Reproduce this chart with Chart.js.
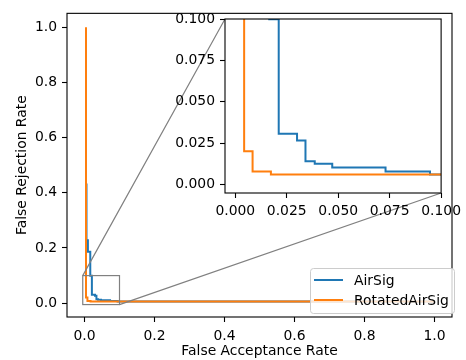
<!DOCTYPE html>
<html>
<head>
<meta charset="utf-8">
<title>FAR vs FRR</title>
<script src="https://cdn.jsdelivr.net/npm/chart.js@4.4.1/dist/chart.umd.min.js"></script>
<style>
  html, body { margin: 0; padding: 0; background: #fff; }
  #wrap { position: relative; width: 466px; height: 360px; }
  #main { position: absolute; left: 0; top: 0; }
  #inset { position: absolute; left: 160px; top: 0; }
</style>
</head>
<body>
<div id="wrap">
  <canvas id="main" width="466" height="360" style="width:466px;height:360px"></canvas>
  <canvas id="inset" width="306" height="232" style="width:306px;height:232px"></canvas>
</div>
<script>
// --- data -------------------------------------------------------------
const seriesNames = ['AirSig', 'RotatedAirSig'];

// step curves, corner by corner (false acceptance / false rejection)
const airSigFar = [0.0057, 0.0057, 0.0097, 0.0097, 0.0165, 0.0165, 0.0211, 0.0211,
                   0.0300, 0.0300, 0.0341, 0.0341, 0.0386, 0.0386, 0.0471, 0.0471,
                   0.0730, 0.0730, 0.0946, 0.0946, 1.0];
const airSigFrr = [0.434, 0.228, 0.228, 0.186, 0.186, 0.0998, 0.0998, 0.0307,
                   0.0307, 0.0267, 0.0267, 0.0142, 0.0142, 0.0126, 0.0126, 0.0104,
                   0.0104, 0.0080, 0.0080, 0.0062, 0.0062];

const rotatedFar = [0.0043, 0.0043, 0.0084, 0.0084, 0.0173, 0.0173, 1.0];
const rotatedFrr = [1.0, 0.0202, 0.0202, 0.0080, 0.0080, 0.0062, 0.0062];

const mainTicks = [0, 0.2, 0.4, 0.6, 0.8, 1.0];
const insetTicks = [0, 0.025, 0.05, 0.075, 0.1];
const mainRange = [-0.05, 1.05];
const zoomRange = [-0.005, 0.1];

// --- look -------------------------------------------------------------
const FONT = "'DejaVu Sans', sans-serif";
const BLUE = '#1f77b4';
const ORANGE = '#ff7f0e';
const GREY = '#808080';
const INSET_X = 160, INSET_Y = 0;   // css offset of the inset canvas

const toPoints = (xs, ys) => xs.map((x, i) => ({ x, y: ys[i] }));

function makeDatasets() {
    const common = { borderWidth: 2, pointRadius: 0, fill: false, tension: 0, showLine: true, clip: 0 };
    return [
        { ...common, label: seriesNames[0], data: toPoints(airSigFar, airSigFrr), borderColor: BLUE, order: 1 },
        { ...common, label: seriesNames[1], data: toPoints(rotatedFar, rotatedFrr), borderColor: ORANGE, order: 0 }
    ];
}

function axis(range, ticks, digits, fit, pad, title) {
    const a = {
        type: 'linear',
        min: range[0],
        max: range[1],
        afterBuildTicks: s => { s.ticks = ticks.map(v => ({ value: v })); },
        afterFit: fit,
        ticks: {
            callback: v => Number(v).toFixed(digits),
            color: '#000',
            font: { family: FONT, size: 13.9 },
            padding: pad,
            maxRotation: 0,
            autoSkip: false
        },
        grid: { drawOnChartArea: false, drawTicks: true, tickLength: 5, tickWidth: 1.1, tickColor: '#000' },
        border: { display: false }
    };
    if (title) a.title = title;
    return a;
}

function frame(ctx, area) {
    ctx.save();
    ctx.strokeStyle = '#000';
    ctx.lineWidth = 1.1;
    ctx.strokeRect(area.left, area.top, area.right - area.left, area.bottom - area.top);
    ctx.restore();
}

// --- inset (zoomed corner) ----------------------------------------------
const insetChart = new Chart(document.getElementById('inset'), {
    type: 'scatter',
    data: { datasets: makeDatasets() },
    options: {
        responsive: false,
        animation: false,
        layout: { padding: { top: 19, right: 20.3, left: 0, bottom: 0 } },
        plugins: { legend: { display: false }, tooltip: { enabled: false } },
        scales: {
            x: axis(zoomRange, insetTicks, 3, s => { s.height = 39; }, 5),
            y: axis(zoomRange, insetTicks, 3, s => { s.width = 65; }, 5)
        }
    },
    plugins: [{
        id: 'insetFrame',
        beforeDatasetsDraw(chart) {
            const a = chart.chartArea;
            chart.ctx.fillStyle = '#fff';
            chart.ctx.fillRect(a.left, a.top, a.right - a.left, a.bottom - a.top);
        },
        afterDraw(chart) { frame(chart.ctx, chart.chartArea); }
    }]
});

// --- main chart -----------------------------------------------------------
const decorations = {
    id: 'decorations',
    afterDraw(chart) {
        const ctx = chart.ctx;
        const xs = chart.scales.x, ys = chart.scales.y;
        frame(ctx, chart.chartArea);

        // zoom box and connectors to the inset corners
        const x0 = xs.getPixelForValue(zoomRange[0]), x1 = xs.getPixelForValue(zoomRange[1]);
        const y0 = ys.getPixelForValue(zoomRange[0]), y1 = ys.getPixelForValue(zoomRange[1]);
        const ia = insetChart.chartArea;
        ctx.save();
        ctx.strokeStyle = GREY;
        ctx.lineWidth = 1.2;
        ctx.strokeRect(x0, y1, x1 - x0, y0 - y1);
        ctx.beginPath();
        ctx.moveTo(x0, y1);
        ctx.lineTo(ia.left + INSET_X, ia.top + INSET_Y);
        ctx.moveTo(x1, y0);
        ctx.lineTo(ia.right + INSET_X, ia.bottom + INSET_Y);
        ctx.stroke();

        // legend
        const bx = 310, by = 268, bw = 144, bh = 45;
        ctx.beginPath();
        ctx.roundRect(bx + 0.5, by + 0.5, bw, bh, 3);
        ctx.fillStyle = 'rgba(255,255,255,0.8)';
        ctx.fill();
        ctx.strokeStyle = '#cccccc';
        ctx.lineWidth = 1;
        ctx.stroke();
        ctx.font = `13.9px ${FONT}`;
        ctx.textBaseline = 'middle';
        ctx.textAlign = 'left';
        [BLUE, ORANGE].forEach((c, i) => {
            const ly = by + 12 + i * 20;
            ctx.strokeStyle = c;
            ctx.lineWidth = 2;
            ctx.beginPath();
            ctx.moveTo(bx + 4, ly);
            ctx.lineTo(bx + 33, ly);
            ctx.stroke();
            ctx.fillStyle = '#000';
            ctx.fillText(seriesNames[i], bx + 44, ly + 1);
        });
        ctx.restore();
    }
};

new Chart(document.getElementById('main'), {
    type: 'scatter',
    data: { datasets: makeDatasets() },
    options: {
        responsive: false,
        animation: false,
        layout: { padding: { top: 11, right: 14, left: 0, bottom: 0 } },
        plugins: { legend: { display: false }, tooltip: { enabled: false } },
        scales: {
            x: axis(mainRange, mainTicks, 1, s => { s.height = 43; }, 6, {
                display: true, text: 'False Acceptance Rate', color: '#000',
                font: { family: FONT, size: 13.9 }, padding: { top: 0, bottom: 0 }
            }),
            y: axis(mainRange, mainTicks, 1, s => { s.width = 67; }, 5, {
                display: true, text: 'False Rejection Rate', color: '#000',
                font: { family: FONT, size: 13.9 }, padding: { top: 14.5, bottom: 0 }
            })
        }
    },
    plugins: [decorations]
});
</script>
</body>
</html>
